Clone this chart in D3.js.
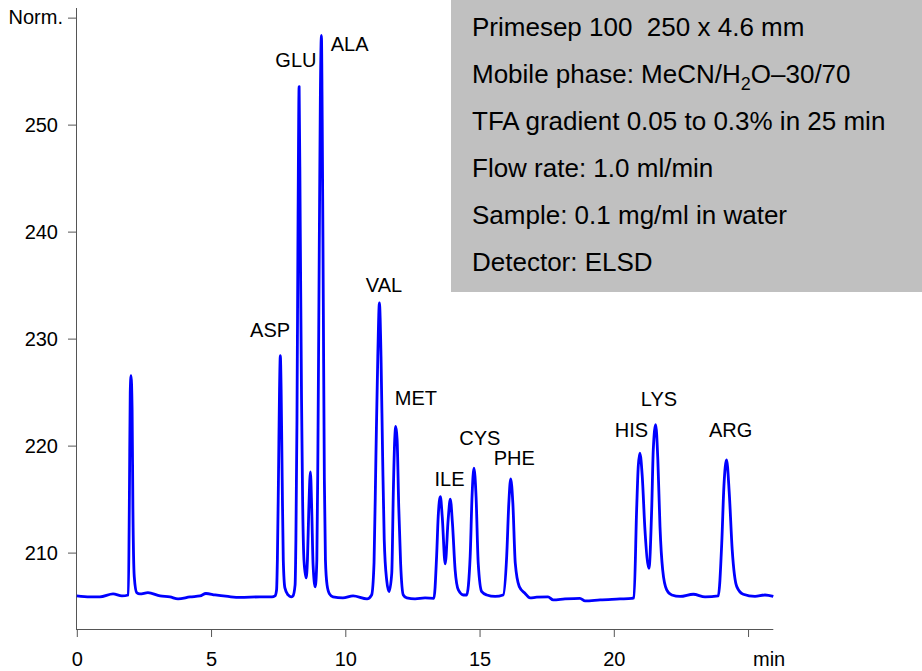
<!DOCTYPE html>
<html>
<head>
<meta charset="utf-8">
<script src="https://cdn.jsdelivr.net/npm/d3@7"></script>
<style>
  body { margin: 0; background: #fff; }
  svg text { font-family: "Liberation Sans", Arial, sans-serif; white-space: pre; }
</style>
</head>
<body>
<div id="chart"></div>
<script>
const LINE_COLOR = "#0000ff";
const AXIS_COLOR = "#555";
const BOX_COLOR = "#c0c0c0";

// trace: retention time (min) and detector signal
const times = [0, 0.49, 0.86, 1.35, 1.68, 1.92,
  1.96, 1.99, 2.02, 2.06, 2.09, 2.14, 2.23, 2.35, 2.65, 3.10, 3.47, 3.77, 4.22, 4.59, 4.81, 5.15, 5.63, 6.08, 6.82, 7.27,
  7.38, 7.44, 7.47, 7.51, 7.55, 7.58, 7.61, 7.65, 7.69, 7.75, 7.87, 7.98,
  8.05, 8.13, 8.16, 8.20, 8.24, 8.28, 8.32, 8.37, 8.41, 8.46, 8.54, 8.59, 8.64, 8.70, 8.75, 8.80, 8.88,
  8.94, 8.98, 9.03, 9.07, 9.11, 9.14, 9.18, 9.22, 9.26, 9.32, 9.41, 9.54, 9.91, 10.29, 10.81,
  10.98, 11.07, 11.14, 11.21, 11.27, 11.33, 11.39, 11.45, 11.54, 11.63,
  11.73, 11.79, 11.84, 11.88, 11.93, 11.99, 12.06, 12.16, 12.29, 12.60, 12.97,
  13.30, 13.40, 13.46, 13.54, 13.61, 13.72, 13.83, 13.91, 13.99, 14.09, 14.21, 14.40,
  14.52, 14.65, 14.72, 14.79, 14.87, 14.95, 15.08, 15.27, 15.58,
  15.88, 16.01, 16.09, 16.16, 16.24, 16.33, 16.48, 16.69, 16.88, 17.13, 17.55, 17.74, 18.18, 18.74, 18.93, 19.49, 20.23, 20.67,
  20.75, 20.85, 20.91, 20.97, 21.06, 21.16, 21.31, 21.41, 21.47, 21.56, 21.64, 21.72, 21.82, 21.97, 22.16, 22.47, 22.96, 23.40,
  23.89, 24.02, 24.10, 24.20, 24.30, 24.41, 24.58, 24.82, 25.26, 25.63, 25.94];
const signal = [205.95, 205.86, 205.86, 206.14, 205.95, 206.04,
  215.58, 224.94, 226.53, 223.35, 214.0, 207.75, 206.26, 206.14, 206.26, 205.95, 205.86, 205.67, 205.86, 205.95, 206.18, 206.04, 205.9, 205.81, 205.86, 205.86,
  205.95, 206.51, 209.32, 216.8, 225.22, 228.4, 225.22, 216.8, 209.32, 206.7, 206.04, 205.86,
  205.95, 206.98, 211.19, 222.41, 241.12, 253.56, 241.12, 224.28, 214.93, 209.32, 207.63, 209.32, 214.0, 217.55, 214.0, 208.85, 206.79,
  209.32, 219.61, 238.32, 252.35, 258.33, 250.48, 233.64, 216.8, 209.32, 206.98, 206.14, 205.86, 205.76, 205.95, 205.67,
  206.04, 209.04, 218.98, 228.33, 233.33, 228.33, 218.98, 211.19, 207.45, 206.35,
  208.07, 215.87, 220.54, 221.79, 220.54, 214.3, 209.01, 206.04, 205.76, 205.67, 205.76,
  205.73, 209.63, 213.37, 215.24, 213.37, 208.94, 213.06, 215.0, 212.75, 208.38, 206.51, 206.04,
  206.04, 209.63, 215.24, 217.9, 215.24, 209.01, 206.35, 206.04, 205.9,
  206.04, 209.63, 214.62, 216.89, 214.62, 209.01, 206.82, 206.2, 205.76, 205.83, 205.86, 205.58, 205.67, 205.73, 205.48, 205.58, 205.67, 205.73,
  205.76, 214.0, 218.04, 219.3, 217.11, 212.12, 208.54, 214.0, 219.61, 221.95, 218.67, 212.43, 208.38, 206.51, 206.04, 205.9, 206.11, 205.86,
  205.95, 210.88, 216.17, 218.67, 215.56, 210.25, 206.82, 206.11, 205.9, 206.04, 205.9];

// peak names and where their labels sit (time, signal)
const peakNames = ["ASP", "GLU", "ALA", "VAL", "MET", "ILE", "CYS", "PHE", "HIS", "LYS", "ARG"];
const labelTimes = [7.2, 8.16, 10.16, 11.44, 12.63, 13.88, 15.01, 16.29, 20.66, 21.68, 24.35];
const labelValues = [230.18, 255.34, 256.87, 234.32, 223.75, 216.27, 220.07, 218.2, 220.8, 223.72, 220.8];

const xTicks = [0, 5, 10, 15, 20, 25];
const yTicks = [210, 220, 230, 240, 250, 260];

const infoLines = [
  "Primesep 100  250 x 4.6 mm",
  "Mobile phase: MeCN/H|2|O\u201330/70",
  "TFA gradient 0.05 to 0.3% in 25 min",
  "Flow rate: 1.0 ml/min",
  "Sample: 0.1 mg/ml in water",
  "Detector: ELSD"
];

let width = 922;
let height = 671;

let svg = d3.select("#chart").append("svg")
  .attr("width", width)
  .attr("height", height);

let x = d3.scaleLinear().domain([0, 25.94]).range([76.8, 773.3]);
let y = d3.scaleLinear().domain([202.86, 260.9]).range([629, 8]);

// info box
svg.append("rect")
  .attr("x", 451).attr("y", 0)
  .attr("width", width - 451).attr("height", 292)
  .attr("fill", BOX_COLOR);

let info = svg.append("g").attr("font-size", 26).attr("fill", "#000");
infoLines.forEach(function (line, i) {
  let t = info.append("text")
    .attr("x", 472)
    .attr("y", 36 + i * 46.9);
  line.split("|").forEach(function (part, j) {
    let span = t.append("tspan").text(part);
    if (j === 1) span.attr("font-size", 18).attr("dy", 7);
    if (j === 2) span.attr("dy", -7);
  });
});

// x axis, the last major tick carries the unit instead of a number
let xAxis = svg.append("g").attr("transform", "translate(0,629)");
xAxis.call(d3.axisBottom(x).tickValues(d3.range(0, 26, 1)).tickSize(4).tickSizeOuter(0).tickFormat(""));
xAxis.call(d3.axisBottom(x).tickValues(xTicks).tickSize(8).tickSizeOuter(0)
  .tickFormat(function (d) { return d === 25 ? "" : d; }));
xAxis.selectAll("path.domain").attr("d", "M76,0.5H773.3");
xAxis.selectAll("text").attr("font-size", 20).attr("fill", "#000").attr("y", 36.7).attr("dy", 0)
  .attr("font-family", "Liberation Sans, Arial, sans-serif");
xAxis.selectAll("line, path").attr("stroke", AXIS_COLOR);

svg.append("text")
  .attr("x", 753).attr("y", 665.7)
  .attr("font-size", 20)
  .text("min");

// y axis
let yAxis = svg.append("g").attr("transform", "translate(76,0)");
yAxis.call(d3.axisLeft(y).tickValues(d3.range(204, 260, 2)).tickSize(4).tickSizeOuter(0).tickFormat(""));
yAxis.call(d3.axisLeft(y).tickValues(yTicks).tickSize(8).tickSizeOuter(0)
  .tickFormat(function (d) { return d === 260 ? "" : d; }));
yAxis.selectAll("path.domain").attr("d", "M0.5,8V629");
yAxis.selectAll("text").attr("font-size", 20).attr("fill", "#000").attr("x", -18)
  .attr("font-family", "Liberation Sans, Arial, sans-serif");
yAxis.selectAll("line, path").attr("stroke", AXIS_COLOR);

svg.append("text")
  .attr("x", 63).attr("y", 24)
  .attr("text-anchor", "end")
  .attr("font-size", 20)
  .text("Norm.");

// chromatogram trace
let line = d3.line()
  .x(function (d, i) { return x(times[i]); })
  .y(function (d) { return y(d); })
  .curve(d3.curveMonotoneX);

svg.append("path")
  .datum(signal)
  .attr("d", line)
  .attr("fill", "none")
  .attr("stroke", LINE_COLOR)
  .attr("stroke-width", 2.8)
  .attr("stroke-linejoin", "round");

// peak labels
svg.append("g")
  .selectAll("text")
  .data(peakNames)
  .enter()
  .append("text")
  .attr("x", function (d, i) { return x(labelTimes[i]); })
  .attr("y", function (d, i) { return y(labelValues[i]); })
  .attr("text-anchor", "middle")
  .attr("font-size", 20)
  .text(function (d) { return d; });
</script>
</body>
</html>
